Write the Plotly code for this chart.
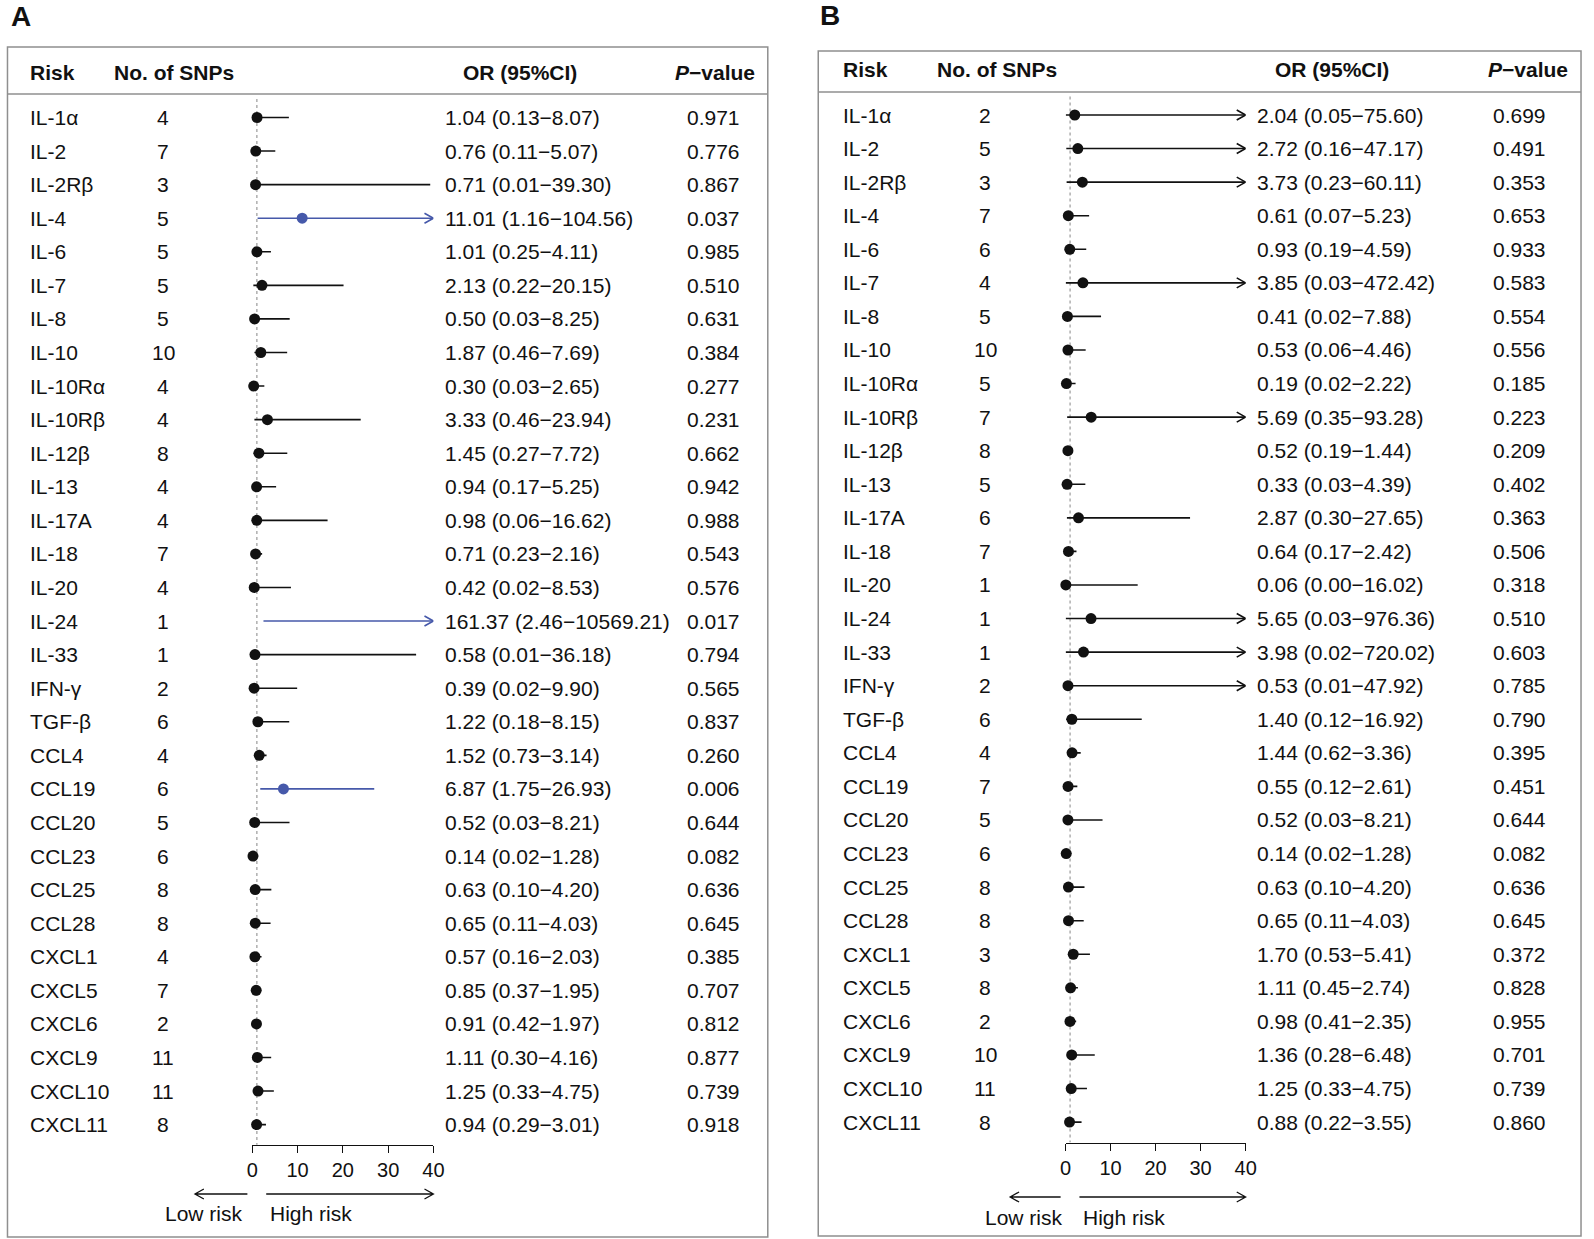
import plotly.graph_objects as go

# ---- data: panel A ----
risk = ["IL-1α", "IL-2", "IL-2Rβ", "IL-4", "IL-6", "IL-7", "IL-8", "IL-10", "IL-10Rα", "IL-10Rβ",
        "IL-12β", "IL-13", "IL-17A", "IL-18", "IL-20", "IL-24", "IL-33", "IFN-γ", "TGF-β",
        "CCL4", "CCL19", "CCL20", "CCL23", "CCL25", "CCL28",
        "CXCL1", "CXCL5", "CXCL6", "CXCL9", "CXCL10", "CXCL11"]

snps_a = [4, 7, 3, 5, 5, 5, 5, 10, 4, 4, 8, 4, 4, 7, 4, 1, 1, 2, 6, 4, 6, 5, 6, 8, 8, 4, 7, 2, 11, 11, 8]
or_a = [1.04, 0.76, 0.71, 11.01, 1.01, 2.13, 0.50, 1.87, 0.30, 3.33, 1.45, 0.94, 0.98, 0.71, 0.42,
        161.37, 0.58, 0.39, 1.22, 1.52, 6.87, 0.52, 0.14, 0.63, 0.65, 0.57, 0.85, 0.91, 1.11, 1.25, 0.94]
lo_a = [0.13, 0.11, 0.01, 1.16, 0.25, 0.22, 0.03, 0.46, 0.03, 0.46, 0.27, 0.17, 0.06, 0.23, 0.02,
        2.46, 0.01, 0.02, 0.18, 0.73, 1.75, 0.03, 0.02, 0.10, 0.11, 0.16, 0.37, 0.42, 0.30, 0.33, 0.29]
hi_a = [8.07, 5.07, 39.30, 104.56, 4.11, 20.15, 8.25, 7.69, 2.65, 23.94, 7.72, 5.25, 16.62, 2.16, 8.53,
        10569.21, 36.18, 9.90, 8.15, 3.14, 26.93, 8.21, 1.28, 4.20, 4.03, 2.03, 1.95, 1.97, 4.16, 4.75, 3.01]
p_a = ["0.971", "0.776", "0.867", "0.037", "0.985", "0.510", "0.631", "0.384", "0.277", "0.231",
       "0.662", "0.942", "0.988", "0.543", "0.576", "0.017", "0.794", "0.565", "0.837", "0.260",
       "0.006", "0.644", "0.082", "0.636", "0.645", "0.385", "0.707", "0.812", "0.877", "0.739", "0.918"]

# ---- data: panel B ----
snps_b = [2, 5, 3, 7, 6, 4, 5, 10, 5, 7, 8, 5, 6, 7, 1, 1, 1, 2, 6, 4, 7, 5, 6, 8, 8, 3, 8, 2, 10, 11, 8]
or_b = [2.04, 2.72, 3.73, 0.61, 0.93, 3.85, 0.41, 0.53, 0.19, 5.69, 0.52, 0.33, 2.87, 0.64, 0.06,
        5.65, 3.98, 0.53, 1.40, 1.44, 0.55, 0.52, 0.14, 0.63, 0.65, 1.70, 1.11, 0.98, 1.36, 1.25, 0.88]
lo_b = [0.05, 0.16, 0.23, 0.07, 0.19, 0.03, 0.02, 0.06, 0.02, 0.35, 0.19, 0.03, 0.30, 0.17, 0.00,
        0.03, 0.02, 0.01, 0.12, 0.62, 0.12, 0.03, 0.02, 0.10, 0.11, 0.53, 0.45, 0.41, 0.28, 0.33, 0.22]
hi_b = [75.60, 47.17, 60.11, 5.23, 4.59, 472.42, 7.88, 4.46, 2.22, 93.28, 1.44, 4.39, 27.65, 2.42, 16.02,
        976.36, 720.02, 47.92, 16.92, 3.36, 2.61, 8.21, 1.28, 4.20, 4.03, 5.41, 2.74, 2.35, 6.48, 4.75, 3.55]
p_b = ["0.699", "0.491", "0.353", "0.653", "0.933", "0.583", "0.554", "0.556", "0.185", "0.223",
       "0.209", "0.402", "0.363", "0.506", "0.318", "0.510", "0.603", "0.785", "0.790", "0.395",
       "0.451", "0.644", "0.082", "0.636", "0.645", "0.372", "0.828", "0.955", "0.701", "0.739", "0.860"]

x_ticks = [0, 10, 20, 30, 40]
x_max = 40

W, H = 1594, 1239
FONT = "Liberation Sans, Arial, sans-serif"
BLACK = "#111111"
BLUE = "#4659AA"
GREY = "#8f8f8f"


def px(x):
    return x / W


def py(y):
    return 1 - y / H


panels = [
    dict(letter="A", xa="x", ya="y", snps=snps_a, orv=or_a, lo=lo_a, hi=hi_a, p=p_a,
         box=(1.5, 47, 770, 1237), hdr_y=72, hdr_line=94, row0=117.5, step=33.57,
         risk_x=22.7, snp_x=159, or_x=442, p_x=744, hdr_snp_x=107, hdr_or_x=520, hdr_p_x=759,
         ax0=249, ax40=432, axis_y=1145, arrow_y=1194, text_y=1213,
         low_arrow=(244, 191), high_arrow=(263, 432), low_x=242, high_x=265, letter_xy=(3, 16)),
    dict(letter="B", xa="x2", ya="y2", snps=snps_b, orv=or_b, lo=lo_b, hi=hi_b, p=p_b,
         box=(821, 51, 1592, 1236), hdr_y=69, hdr_line=92, row0=115, step=33.57,
         risk_x=844, snp_x=990, or_x=1262, p_x=1559, hdr_snp_x=939, hdr_or_x=1340, hdr_p_x=1581,
         ax0=1071, ax40=1253, axis_y=1143, arrow_y=1197, text_y=1217,
         low_arrow=(1066, 1015), high_arrow=(1085, 1253), low_x=1070, high_x=1087, letter_xy=(821, 15)),
]

fig = go.Figure()
annotations = []
shapes = []
layout_axes = {}

for k, P in enumerate(panels):
    n = len(risk)
    rows = list(range(n))
    unit_px = (P["ax40"] - P["ax0"]) / x_max
    head_dx = 9 / unit_px
    head_dy = 5 / P["step"]
    sig = [float(v) < 0.05 for v in P["p"]]

    # CI lines and arrow heads, grouped by colour
    for colour, flag in [(BLACK, False), (BLUE, True)]:
        lx, ly = [], []
        for r in rows:
            if sig[r] != flag:
                continue
            end = min(P["hi"][r], x_max)
            lx += [P["lo"][r], end, None]
            ly += [r, r, None]
            if P["hi"][r] > x_max:
                lx += [x_max - head_dx, x_max, x_max - head_dx, None]
                ly += [r - head_dy, r, r + head_dy, None]
        if lx:
            fig.add_trace(go.Scatter(x=lx, y=ly, mode="lines", xaxis=P["xa"], yaxis=P["ya"],
                                     line=dict(color=colour, width=1.6), hoverinfo="skip",
                                     showlegend=False))

    # point estimates (only those inside the axis range)
    dx = [P["orv"][r] for r in rows if P["orv"][r] <= x_max]
    dy = [r for r in rows if P["orv"][r] <= x_max]
    dc = [BLUE if sig[r] else BLACK for r in rows if P["orv"][r] <= x_max]
    fig.add_trace(go.Scatter(x=dx, y=dy, mode="markers", xaxis=P["xa"], yaxis=P["ya"],
                             marker=dict(size=11, color=dc), cliponaxis=False,
                             hoverinfo="skip", showlegend=False))

    # reference line at OR = 1
    shapes.append(dict(type="line", xref=P["xa"], yref=P["ya"], x0=1, x1=1, y0=-0.55, y1=n - 0.4,
                       line=dict(color="#9a9a9a", width=1.2, dash="dot"), layer="below"))

    # axes
    r_top = -P["row0"] / P["step"]
    r_bot = (H - P["row0"]) / P["step"]
    suffix = "" if k == 0 else "2"
    layout_axes["xaxis" + suffix] = dict(
        domain=[px(P["ax0"]), px(P["ax40"])], range=[0, x_max], anchor="free",
        position=py(P["axis_y"]), showgrid=False, zeroline=False, showline=True,
        linecolor=BLACK, linewidth=1.3, ticks="outside", ticklen=7, tickwidth=1.3,
        tickcolor=BLACK, tickvals=x_ticks, tickfont=dict(size=20, color=BLACK, family=FONT))
    layout_axes["yaxis" + suffix] = dict(domain=[0, 1], range=[r_bot, r_top], visible=False,
                                         anchor=P["xa"])

    # table text
    def txt(x, y, s, anchor="left", yref="paper", size=21):
        annotations.append(dict(x=px(x), y=y, xref="paper", yref=yref, text=s, showarrow=False,
                                xanchor=anchor, yanchor="middle",
                                font=dict(size=size, color=BLACK, family=FONT)))

    for r in rows:
        txt(P["risk_x"], r, risk[r], yref=P["ya"])
        txt(P["snp_x"], r, str(P["snps"][r]), anchor="center", yref=P["ya"])
        txt(P["or_x"], r, "%.2f (%.2f\u2212%.2f)" % (P["orv"][r], P["lo"][r], P["hi"][r]), yref=P["ya"])
        txt(P["p_x"], r, P["p"][r], anchor="right", yref=P["ya"])

    hy = py(P["hdr_y"])
    txt(P["risk_x"], hy, "<b>Risk</b>")
    txt(P["hdr_snp_x"], hy, "<b>No. of SNPs</b>")
    txt(P["hdr_or_x"], hy, "<b>OR (95%CI)</b>", anchor="center")
    txt(P["hdr_p_x"], hy, "<b><i>P</i>\u2212value</b>", anchor="right")
    txt(P["letter_xy"][0], py(P["letter_xy"][1]), "<b>%s</b>" % P["letter"], size=28)

    # low / high risk
    txt(P["low_x"], py(P["text_y"]), "Low risk", anchor="right")
    txt(P["high_x"], py(P["text_y"]), "High risk")
    ay = py(P["arrow_y"])
    hx, hyy = px(9), 5 / H
    a0, a1 = P["low_arrow"]
    b0, b1 = P["high_arrow"]
    shapes.append(dict(type="path", xref="paper", yref="paper",
                       path="M %f %f L %f %f M %f %f L %f %f L %f %f" % (
                           px(a0), ay, px(a1), ay,
                           px(a1) + hx, ay + hyy, px(a1), ay, px(a1) + hx, ay - hyy),
                       line=dict(color=BLACK, width=1.3)))
    shapes.append(dict(type="path", xref="paper", yref="paper",
                       path="M %f %f L %f %f M %f %f L %f %f L %f %f" % (
                           px(b0), ay, px(b1), ay,
                           px(b1) - hx, ay + hyy, px(b1), ay, px(b1) - hx, ay - hyy),
                       line=dict(color=BLACK, width=1.3)))

    # frame and header rule
    x0, y0, x1, y1 = P["box"]
    shapes.append(dict(type="rect", xref="paper", yref="paper", x0=px(x0), x1=px(x1),
                       y0=py(y1), y1=py(y0), line=dict(color=GREY, width=1.5)))
    shapes.append(dict(type="line", xref="paper", yref="paper", x0=px(x0), x1=px(x1),
                       y0=py(P["hdr_line"]), y1=py(P["hdr_line"]),
                       line=dict(color=GREY, width=1.5)))

fig.update_layout(
    width=W, height=H, margin=dict(l=0, r=0, t=0, b=0),
    paper_bgcolor="white", plot_bgcolor="rgba(0,0,0,0)",
    annotations=annotations, shapes=shapes, showlegend=False,
    font=dict(family=FONT, color=BLACK),
    **layout_axes,
)

# the page body has a default 8px margin; drop it so the figure fills the window exactly
fig.write_html("out.html", config={"displayModeBar": False},
               post_script="document.body.style.margin = '0px';")
